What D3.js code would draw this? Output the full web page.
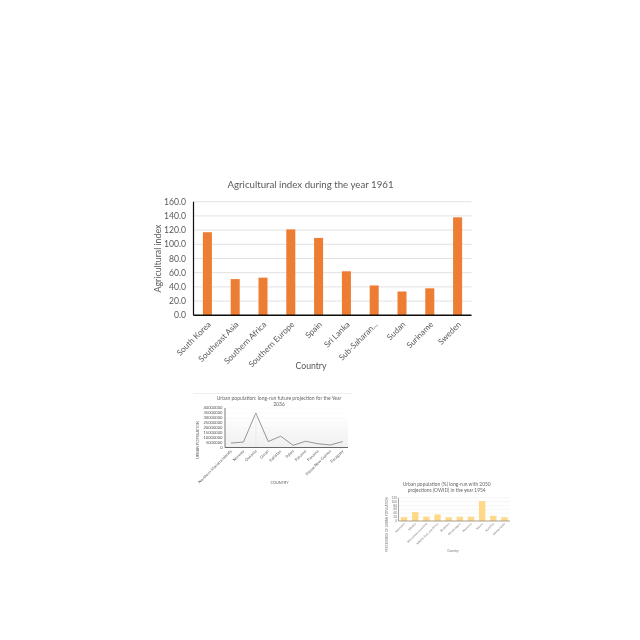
<!DOCTYPE html>
<html lang="en">
<head>
<meta charset="UTF-8">
<title>Agricultural index</title>
<style>
	html, body { margin: 0; padding: 0; background: #fff; }
	svg { display: block; font-family: Lato, sans-serif; }
</style>
<script src="https://d3js.org/d3.v7.min.js"></script>
</head>
<body>
<script>
// main chart
const agriCountries = ["South Korea", "Southeast Asia", "Southern Africa", "Southern Europe", "Spain", "Sri Lanka", "Sub-Saharan...", "Sudan", "Suriname", "Sweden"];
const agriValues = [117, 51, 53, 121, 109, 62, 42, 33.5, 38, 138];
const agriTicks = [0, 20, 40, 60, 80, 100, 120, 140, 160];

// line chart
const urbanCountries = ["Northern Mariana Islands", "Norway", "Oceania", "Oman", "Pakistan", "Palau", "Panama", "Panama", "Papua New Guinea", "Paraguay"];
const urbanValues = [4500000, 5500000, 35000000, 6000000, 11500000, 2200000, 6300000, 3800000, 2500000, 6000000];
const urbanTicks = [0, 5000000, 10000000, 15000000, 20000000, 25000000, 30000000, 35000000, 40000000];

// small bar chart
const shareCountries = ["Indonesia", "Mexico", "Micronesia (country)", "Middle East and Africa", "Moldova", "Montenegro", "Morocco", "Nauru", "Namibia", "Netherlands"];
const shareValues = [20, 46, 22, 34, 19, 22, 22, 103, 27, 19];
const shareTicks = [0, 20, 40, 60, 80, 100, 120];

const svg = d3.select("body").append("svg").attr("width", 640).attr("height", 640);

const defs = svg.append("defs");
defs.append("filter").attr("id", "soft").append("feGaussianBlur").attr("stdDeviation", 0.3);
defs.append("filter").attr("id", "softer").append("feGaussianBlur").attr("stdDeviation", 0.2);
const fade = defs.append("linearGradient").attr("id", "fade").attr("x1", 0).attr("x2", 0).attr("y1", 0).attr("y2", 1);
fade.append("stop").attr("offset", 0.2).attr("stop-color", "#fff");
fade.append("stop").attr("offset", 1).attr("stop-color", "#f0f0f0");

function yAxisAndGrid(g, y, x0, x1, ticks, fmt, o) {
	g.selectAll(".grid").data(ticks).enter().append("line")
		.attr("x1", x0).attr("x2", x1)
		.attr("y1", d => y(d)).attr("y2", d => y(d))
		.attr("stroke", o.grid).attr("stroke-width", o.gridW);
	g.selectAll(".ytick").data(ticks).enter().append("text")
		.attr("x", x0 - o.pad).attr("y", d => y(d) + o.size * 0.35)
		.attr("text-anchor", "end").attr("font-size", o.size).attr("fill", o.color)
		.text(fmt);
}

function xLabels(g, x, cats, y, o) {
	g.selectAll(".xlab").data(cats).enter().append("text")
		.attr("transform", (d, i) => "translate(" + (x(i) + o.dx) + "," + y + ") rotate(-45)")
		.attr("text-anchor", "end").attr("font-size", o.size).attr("fill", o.color)
		.text(d => d);
}

// Agricultural index
(function () {
	const g = svg.append("g").attr("filter", "url(#softer)");
	const left = 193.5, right = 471.5, base = 315.3, top = 201.7;
	const x = d3.scaleBand().domain(d3.range(agriCountries.length)).range([left, right]);
	const y = d3.scaleLinear().domain([0, 160]).range([base, top]);
	yAxisAndGrid(g, y, left, right, agriTicks, d => d.toFixed(1), {grid: "#e2e2e2", gridW: 1, pad: 7.5, size: 8.6, color: "#595959"});
	g.selectAll("rect").data(agriValues).enter().append("rect")
		.attr("x", (d, i) => x(i) + x.bandwidth() / 2 - 4.5)
		.attr("width", 9)
		.attr("y", d => y(d))
		.attr("height", d => base - y(d))
		.attr("fill", "#ed7d31");
	g.append("line").attr("x1", left).attr("x2", left).attr("y1", top).attr("y2", base).attr("stroke", "#111").attr("stroke-width", 1.2);
	g.append("line").attr("x1", left).attr("x2", right).attr("y1", base).attr("y2", base).attr("stroke", "#111").attr("stroke-width", 1.4);
	xLabels(g, i => x(i) + x.bandwidth() / 2, agriCountries, 325, {dx: 4, size: 8.2, color: "#595959"});
	g.append("text").attr("x", 310.5).attr("y", 188).attr("text-anchor", "middle").attr("font-size", 9.7).attr("fill", "#595959").text("Agricultural index during the year 1961");
	g.append("text").attr("x", 311).attr("y", 369).attr("text-anchor", "middle").attr("font-size", 8.7).attr("fill", "#595959").text("Country");
	g.append("text").attr("transform", "translate(161,258.5) rotate(-90)").attr("text-anchor", "middle").attr("font-size", 8.8).attr("fill", "#595959").text("Agricultural index");
})();

// Urban population line
(function () {
	const g = svg.append("g").attr("filter", "url(#soft)");
	const left = 225, right = 348, base = 447.5, top = 408;
	const x = d3.scalePoint().domain(d3.range(urbanCountries.length)).range([231, 342.7]);
	const y = d3.scaleLinear().domain([0, 40000000]).range([base, top]);
	g.append("line").attr("x1", 193).attr("x2", 352).attr("y1", 393.5).attr("y2", 393.5).attr("stroke", "#e6e6e6").attr("stroke-width", 0.6);
	g.append("rect").attr("x", left).attr("y", top).attr("width", right - left).attr("height", base - top).attr("fill", "url(#fade)");
	yAxisAndGrid(g, y, left, right, urbanTicks, d => d, {grid: "#f6f6f6", gridW: 0.4, pad: 2.5, size: 4.1, color: "#555"});
	g.append("path").datum(urbanValues)
		.attr("fill", "none").attr("stroke", "#8a8a8a").attr("stroke-width", 0.9)
		.attr("d", d3.line().x((d, i) => x(i)).y(d => y(d)));
	g.append("line").attr("x1", x(2)).attr("x2", x(2)).attr("y1", y(urbanValues[2])).attr("y2", base).attr("stroke", "#e0e0e0").attr("stroke-width", 0.5);
	g.append("line").attr("x1", left).attr("x2", left).attr("y1", top).attr("y2", base).attr("stroke", "#444").attr("stroke-width", 0.7);
	g.append("line").attr("x1", left).attr("x2", right).attr("y1", base).attr("y2", base).attr("stroke", "#444").attr("stroke-width", 0.8);
	xLabels(g, x, urbanCountries, 451.5, {dx: 1, size: 4.1, color: "#666"});
	g.append("text").attr("x", 279).attr("y", 400.3).attr("text-anchor", "middle").attr("font-size", 5).attr("fill", "#666").text("Urban population: long-run future projection for the Year");
	g.append("text").attr("x", 279).attr("y", 406).attr("text-anchor", "middle").attr("font-size", 5).attr("fill", "#666").text("2036");
	g.append("text").attr("x", 279.5).attr("y", 483.5).attr("text-anchor", "middle").attr("font-size", 3.8).attr("fill", "#666").text("COUNTRY");
	g.append("text").attr("transform", "translate(199,440) rotate(-90)").attr("text-anchor", "middle").attr("font-size", 3.8).attr("fill", "#666").text("URBAN POPULATION");
})();

// Urban share bars
(function () {
	const g = svg.append("g").attr("filter", "url(#soft)");
	const left = 398.5, right = 510, base = 521, top = 497.7;
	const x = d3.scaleBand().domain(d3.range(shareCountries.length)).range([left, right]);
	const y = d3.scaleLinear().domain([0, 120]).range([base, top]);
	yAxisAndGrid(g, y, left, right, shareTicks, d => d, {grid: "#eeeeee", gridW: 0.5, pad: 1.5, size: 3.2, color: "#777"});
	g.selectAll("rect").data(shareValues).enter().append("rect")
		.attr("x", (d, i) => x(i) + x.bandwidth() / 2 - 3.2)
		.attr("width", 6.4)
		.attr("y", d => y(d))
		.attr("height", d => base - y(d))
		.attr("fill", "#ffd98a");
	g.append("line").attr("x1", left).attr("x2", left).attr("y1", top).attr("y2", base).attr("stroke", "#666").attr("stroke-width", 0.6);
	g.append("line").attr("x1", left).attr("x2", right).attr("y1", base).attr("y2", base).attr("stroke", "#8a8068").attr("stroke-width", 0.7);
	xLabels(g, i => x(i) + x.bandwidth() / 2, shareCountries, 524, {dx: 1, size: 3, color: "#777"});
	g.append("text").attr("x", 446.7).attr("y", 485.5).attr("text-anchor", "middle").attr("font-size", 4.9).attr("fill", "#666").text("Urban population (%) long-run with 2050");
	g.append("text").attr("x", 446.7).attr("y", 492).attr("text-anchor", "middle").attr("font-size", 4.9).attr("fill", "#666").text("projections (OWID) in the year 1954");
	g.append("text").attr("x", 453).attr("y", 552).attr("text-anchor", "middle").attr("font-size", 3.2).attr("fill", "#777").text("Country");
	g.append("text").attr("transform", "translate(387.5,524.5) rotate(-90)").attr("text-anchor", "middle").attr("font-size", 3).attr("fill", "#777").text("PERCENTAGE OF URBAN POPULATION");
})();
</script>
</body>
</html>
